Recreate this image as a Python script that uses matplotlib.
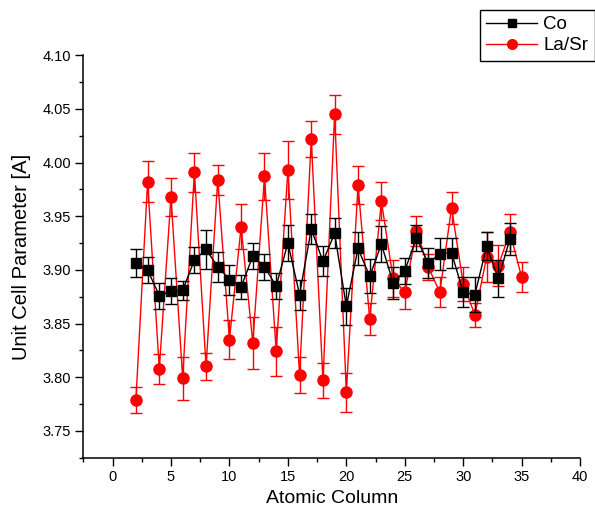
import numpy as np
import matplotlib.pyplot as plt
from matplotlib.lines import Line2D
from matplotlib.ticker import MultipleLocator

plt.rcParams['font.family'] = ['Liberation Sans', 'DejaVu Sans']

# ====== Data ======
co_x = list(range(2, 35))
co_y = [3.906, 3.900, 3.876, 3.880, 3.881, 3.909, 3.919, 3.903, 3.891, 3.884,
        3.913, 3.903, 3.885, 3.925, 3.877, 3.938, 3.908, 3.934, 3.866, 3.920,
        3.894, 3.924, 3.888, 3.899, 3.930, 3.906, 3.915, 3.916, 3.879, 3.877,
        3.922, 3.892, 3.929]
co_err = [0.013, 0.012, 0.012, 0.012, 0.009, 0.012, 0.018, 0.014, 0.014, 0.011,
          0.012, 0.012, 0.012, 0.017, 0.014, 0.014, 0.014, 0.014, 0.017, 0.015,
          0.016, 0.017, 0.015, 0.012, 0.012, 0.014, 0.015, 0.014, 0.014, 0.016,
          0.013, 0.017, 0.015]

lasr_x = list(range(2, 36))
lasr_y = [3.779, 3.982, 3.808, 3.968, 3.799, 3.991, 3.810, 3.984, 3.835, 3.940,
          3.832, 3.987, 3.824, 3.993, 3.802, 4.022, 3.797, 4.045, 3.786, 3.979,
          3.854, 3.964, 3.892, 3.879, 3.936, 3.903, 3.879, 3.958, 3.887, 3.858,
          3.912, 3.904, 3.935, 3.893]
lasr_err = [0.012, 0.019, 0.014, 0.018, 0.020, 0.018, 0.013, 0.014, 0.018, 0.021,
            0.024, 0.022, 0.023, 0.027, 0.017, 0.017, 0.016, 0.018, 0.018, 0.018,
            0.015, 0.018, 0.017, 0.015, 0.014, 0.012, 0.014, 0.015, 0.016, 0.011,
            0.023, 0.019, 0.017, 0.014]

# ===== Plot =====
fig = plt.figure(figsize=(5.95, 5.16), dpi=100)
ax = fig.add_axes([0.140, 0.113, 0.835, 0.780])

ax.errorbar(co_x, co_y, yerr=co_err, fmt='-s', color='black', ms=7, lw=1,
            elinewidth=1, capsize=4, capthick=1, zorder=3)
ax.errorbar(lasr_x, lasr_y, yerr=lasr_err, fmt='-o', color='#ff0000', ms=8, lw=1,
            elinewidth=1, capsize=4, capthick=1, zorder=2)

ax.set_xlim(-2.5, 40)
ax.set_ylim(3.725, 4.10)
ax.xaxis.set_major_locator(MultipleLocator(5))
ax.xaxis.set_minor_locator(MultipleLocator(2.5))
ax.yaxis.set_major_locator(MultipleLocator(0.05))
ax.yaxis.set_minor_locator(MultipleLocator(0.025))
ax.yaxis.set_major_formatter(plt.FormatStrFormatter('%.2f'))

for side in ['top', 'right']:
    ax.spines[side].set_visible(False)
for side in ['left', 'bottom']:
    ax.spines[side].set_linewidth(1.1)

ax.tick_params(which='major', direction='out', length=5.5, width=1, labelsize=10.5)
ax.tick_params(which='minor', direction='out', length=3, width=1)

ax.set_xlabel('Atomic Column', fontsize=14)
ax.set_ylabel('Unit Cell Parameter [A]', fontsize=14.5, labelpad=8)

# legend handles without the error bars
handles = [Line2D([], [], color='black', marker='s', ms=6, lw=1),
           Line2D([], [], color='#ff0000', marker='o', ms=7, lw=1)]
leg = fig.legend(handles, ['Co', 'La/Sr'], loc='upper right',
                 bbox_to_anchor=(1.0, 0.981), borderaxespad=0, fontsize=13.5,
                 fancybox=False, edgecolor='black', framealpha=1,
                 borderpad=0.35, handlelength=2.7, handletextpad=0.35,
                 labelspacing=0.2)
leg.get_frame().set_linewidth(1)

fig.savefig('out.png', dpi=100)
